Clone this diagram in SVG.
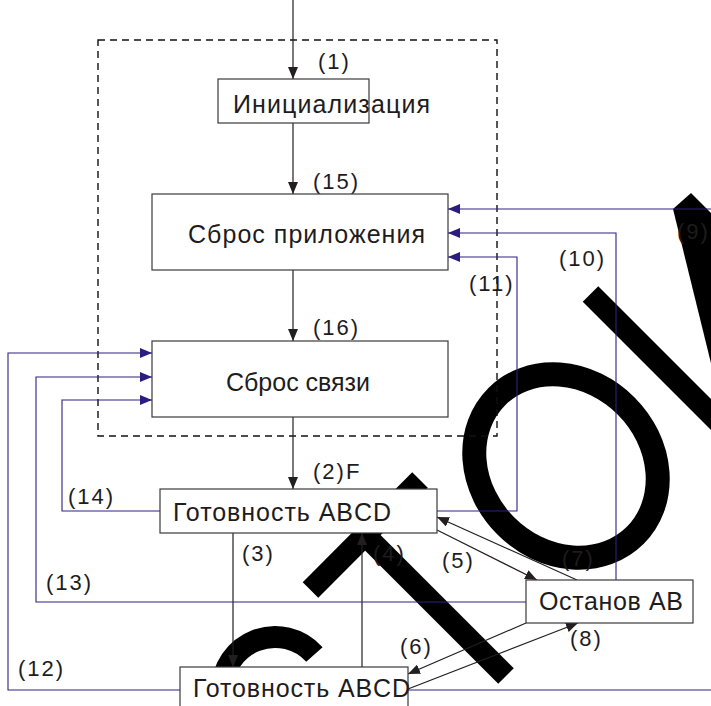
<svg xmlns="http://www.w3.org/2000/svg" width="711" height="706" viewBox="0 0 711 706">
<style>
.wm{fill:none;stroke:#000;stroke-width:22;stroke-linecap:butt}
.box{fill:#fff;stroke:#3a3a3a;stroke-width:1.2}
.t{font-family:"Liberation Sans",Arial,sans-serif;font-size:25px;fill:#1e1c1c}
.lb{font-family:"Liberation Sans",Arial,sans-serif;font-size:22px;fill:#1e1c1c;letter-spacing:2px}
.k{fill:none;stroke:#231f20;stroke-width:1.2}
.n{fill:none;stroke:#2e2283;stroke-width:1.1}
</style>
<defs>
<marker id="ak" markerUnits="userSpaceOnUse" markerWidth="12" markerHeight="10" refX="12" refY="5" orient="auto"><path d="M0,0 L12,5 L0,10 z" fill="#231f20"/></marker>
<marker id="an" markerUnits="userSpaceOnUse" markerWidth="12" markerHeight="10" refX="12" refY="5" orient="auto"><path d="M0,0 L12,5 L0,10 z" fill="#2a1d80"/></marker>
</defs>
<rect width="711" height="706" fill="#fff"/>
<g id="watermark">
<line class="wm" x1="310.5" y1="590" x2="420" y2="480"/>
<line class="wm" x1="358" y1="528" x2="506" y2="676"/>
<line class="wm" x1="590.5" y1="294" x2="760" y2="463.5"/>
<polygon points="673,209 691,193 730,232 730,420 725,420" fill="#000"/>
<ellipse cx="566" cy="466" rx="98" ry="85" transform="rotate(45 566 466)" fill="none" stroke="#000" stroke-width="24"/>
<path class="wm" d="M222,690 A53,53 0 0 1 314.4,654.5"/>
</g>
<rect id="frame" x="98" y="40" width="399" height="396" fill="none" stroke="#111" stroke-width="1.4" stroke-dasharray="7 5"/>
<g id="connectors">
<path class="k" d="M293,0 V79" marker-end="url(#ak)"/>
<path class="k" d="M293,123 V194" marker-end="url(#ak)"/>
<path class="k" d="M293,270 V341" marker-end="url(#ak)"/>
<path class="k" d="M293,417 V489" marker-end="url(#ak)"/>
<path class="k" d="M233,533 V667" marker-end="url(#ak)"/>
<path class="k" d="M362,667 V533" marker-end="url(#ak)"/>
<path class="k" d="M437,530 L537,580" marker-end="url(#ak)"/>
<path class="k" d="M577,580 L437,517" marker-end="url(#ak)"/>
<path class="k" d="M526,623 L408,674" marker-end="url(#ak)"/>
<path class="k" d="M408,689 L578,623" marker-end="url(#ak)"/>
<path class="n" d="M160,511 H62 V400 H152" marker-end="url(#an)"/>
<path class="n" d="M526,602 H36 V377 H152" marker-end="url(#an)"/>
<path class="n" d="M180,690 H8 V353 H152" marker-end="url(#an)"/>
<path class="n" d="M437,511 H517 V257 H448" marker-end="url(#an)"/>
<path class="n" d="M616,580 V233 H448" marker-end="url(#an)"/>
<path class="n" d="M408,690 H716 V209 H448" marker-end="url(#an)"/>
</g>
<g id="labels">
<text class="lb" x="318" y="69">(1)</text>
<text class="lb" x="313" y="189">(15)</text>
<text class="lb" x="313" y="335">(16)</text>
<text class="lb" x="313" y="479">(2)F</text>
<text class="lb" x="68" y="504">(14)</text>
<text class="lb" x="242" y="561">(3)</text>
<text class="lb" x="373" y="561">(4)</text>
<text class="lb" x="442" y="568">(5)</text>
<text class="lb" x="562" y="566">(7)</text>
<text class="lb" x="46" y="590">(13)</text>
<text class="lb" x="400" y="654">(6)</text>
<text class="lb" x="570" y="646">(8)</text>
<text class="lb" x="18" y="676">(12)</text>
<text class="lb" x="677" y="239">(9)</text>
<text class="lb" x="559" y="266">(10)</text>
<text class="lb" x="469" y="291">(11)</text>
</g>
<g id="init">
<rect class="box" x="218" y="79" width="151" height="44"/>
<text class="t" x="233" y="113" textLength="197" lengthAdjust="spacing">Инициализация</text>
</g>
<g id="app-reset">
<rect class="box" x="152" y="194" width="296" height="76"/>
<text class="t" x="188" y="243" textLength="237" lengthAdjust="spacing">Сброс приложения</text>
</g>
<g id="link-reset">
<rect class="box" x="152" y="341" width="296" height="76"/>
<text class="t" x="226" y="391" textLength="144" lengthAdjust="spacing">Сброс связи</text>
</g>
<g id="ready-top">
<rect class="box" x="160" y="489" width="277" height="44"/>
<text class="t" x="173" y="521" textLength="218" lengthAdjust="spacing">Готовность ABCD</text>
</g>
<g id="stop-ab">
<rect class="box" x="526" y="580" width="167" height="43"/>
<text class="t" x="539" y="610" textLength="144" lengthAdjust="spacing">Останов AB</text>
</g>
<g id="ready-bottom">
<rect class="box" x="180" y="667" width="228" height="45"/>
<text class="t" x="193" y="697" textLength="217" lengthAdjust="spacing">Готовность ABCD</text>
</g>
</svg>
